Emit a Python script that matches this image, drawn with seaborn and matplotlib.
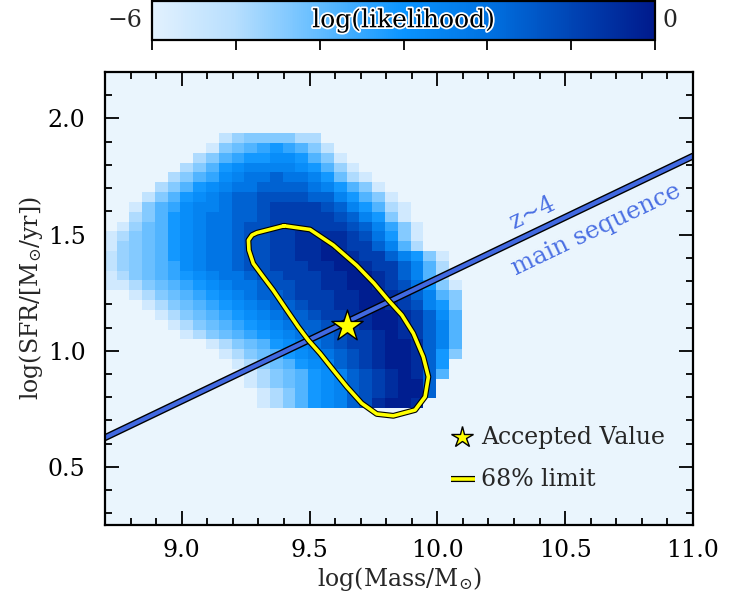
import numpy as np
import pandas as pd
import matplotlib
matplotlib.use("Agg")
import matplotlib.pyplot as plt
import matplotlib.patheffects as pe
from matplotlib.colors import LinearSegmentedColormap, Normalize
from matplotlib.cm import ScalarMappable
from matplotlib.ticker import MultipleLocator, FormatStrFormatter
import seaborn as sns

# ---------------- data ----------------
# likelihood grid: bin edges in log(Mass) and log(SFR)
mass_edges = np.round(np.linspace(8.695, 10.095, 29), 4)   # 28 columns
sfr_edges = np.round(np.linspace(0.753, 1.937, 29), 4)     # 28 rows

# colour class of each cell (0 = below -6, I = darkest), rows from top (high SFR) to bottom
class_symbols = "0123456789ABCDEFGHI"
loglike_levels = [
    "000000000" "35666644" "00000000000",
    "00000000" "26789A9863" "0000000000",
    "0000000" "4689AABBA862" "000000000",
    "000000" "468ABCCCCBA852" "00000000",
    "00000" "4689BCDDEDDCA742" "0000000",
    "0000" "468ABCDDEEEEDCA862" "000000",
    "000" "368ABCDEEFFFFEECA862" "00000",
    "00" "2689BCCDEEFGGGGFECA842" "0000",
    "00" "468ABCDDEEFGGGGGFECA62" "0000",
    "0" "2578ABCDDEFFGGGGGGFEC962" "000",
    "2" "4678ABCDDEFFGGHHHHGFDA62" "000",
    "2" "5678ABCDDEFFGGHHIHGGEC84" "000",
    "3" "5678ABCDDEFFGGHHIIHGGECA62" "0",
    "3" "56789BCDDEFFGGGHHIIHGGEC840",
    "2" "46789ABCDDEFFGGGHHIIHGEC840",
    "2" "246789ABCDDEFFGGHHIIHGFDA62",
    "0" "0246789ABCDEEFGGGHHIIHGEC86",
    "0" "00246789ABCDEEFGGHHIIHGFCA6",
    "0" "000246789ABCDEEFGGHHIIHGEB8",
    "0" "0000246789ABCDEEFGGHIIHGEC8",
    "0" "00000246789ABCDEEFGGHIHGEC8",
    "0" "0000000" "24678ABCDEFGGHIIHEC8",
    "0" "00000000" "24678ABCDEFGHIIHEA6",
    "0" "000000000" "24678ABCEFGHIIHEA" "0",
    "0" "0000000000" "24678ABCEFGHIHE8" "0",
    "0" "0000000000" "24678ABCEFGHIIE" "00",
    "0" "00000000000" "2468ABCEFGHIIE" "00",
    "0" "00000000000" "2468ABCEFHIIH" "000",
]
# log(likelihood) for each colour class
class_loglike = [-6.0, -5.8, -5.6, -5.25, -4.9, -4.65, -4.4, -4.1, -3.8, -3.45,
                 -3.1, -2.8, -2.5, -2.1, -1.65, -1.25, -0.85, -0.45, -0.1]
loglike_min, loglike_max = -6.0, 0.0

# z~4 main sequence
ms_mass = [8.70, 11.00]
ms_sfr = [0.626, 1.838]

# 68% likelihood contour
contour_mass = [9.400, 9.502, 9.593, 9.685, 9.752, 9.808, 9.861, 9.906, 9.945, 9.965,
                9.952, 9.913, 9.828, 9.763, 9.704, 9.646, 9.593, 9.541, 9.495, 9.456,
                9.411, 9.358, 9.319, 9.280, 9.263, 9.261, 9.275, 9.294, 9.400]
contour_sfr = [1.538, 1.522, 1.455, 1.367, 1.291, 1.218, 1.154, 1.075, 0.974, 0.888,
               0.802, 0.745, 0.720, 0.728, 0.774, 0.845, 0.917, 0.989, 1.046, 1.103,
               1.175, 1.261, 1.318, 1.376, 1.433, 1.476, 1.498, 1.508, 1.538]

# accepted value
best_mass = [9.648]
best_sfr = [1.108]

# ---------------- build table ----------------
mass_centers = (mass_edges[:-1] + mass_edges[1:]) / 2
sfr_centers_top_down = ((sfr_edges[:-1] + sfr_edges[1:]) / 2)[::-1]
recs = []
for j, row in enumerate(loglike_levels):
    assert len(row) == len(mass_centers), (j, len(row))
    for k, ch in enumerate(row):
        lvl = class_symbols.index(ch)
        w = 0.0 if lvl == 0 else class_loglike[lvl] - loglike_min
        recs.append((mass_centers[k], sfr_centers_top_down[j], w))
grid = pd.DataFrame(recs, columns=["mass", "sfr", "weight"])
contour = pd.DataFrame({"mass": contour_mass, "sfr": contour_sfr})

# ---------------- style ----------------
sns.set_theme(style="ticks")
plt.rcParams["font.family"] = ["DejaVu Serif"]
plt.rcParams["mathtext.fontset"] = "dejavuserif"

cmap = LinearSegmentedColormap.from_list(
    "like",
    [(0.0, "#e2f1fe"), (0.167, "#b6defe"), (0.333, "#62bcff"), (0.5, "#0a94ff"),
     (0.667, "#0072e2"), (0.833, "#0045b5"), (1.0, "#001a8c")])

W, H = 751, 607
fig = plt.figure(figsize=(W / 100, H / 100), dpi=100)
ax = fig.add_axes([105 / W, 1 - 525 / H, 588 / W, 453 / H])
ax.set_facecolor("#eaf5fd")

sns.histplot(data=grid, x="mass", y="sfr", weights="weight",
             bins=[mass_edges, sfr_edges], cmap=cmap,
             vmin=0, vmax=loglike_max - loglike_min,
             thresh=0, cbar=False, ax=ax, zorder=1)

# main sequence line
sns.lineplot(x=ms_mass, y=ms_sfr, ax=ax, color="#4169e1", lw=3.0, zorder=3,
             path_effects=[pe.Stroke(linewidth=5.0, foreground="black"), pe.Normal()])

# 68% contour
sns.lineplot(data=contour, x="mass", y="sfr", sort=False, estimator=None, ax=ax,
             color="#ffff00", lw=2.6, zorder=4,
             path_effects=[pe.Stroke(linewidth=4.2, foreground="black"), pe.Normal()])

# accepted value
sns.scatterplot(x=best_mass, y=best_sfr, ax=ax, marker="*", s=560,
                color="#ffff00", edgecolor="black", linewidth=1.0, zorder=5)

ax.set_xlim(8.7, 11.0)
ax.set_ylim(0.25, 2.2)
ax.xaxis.set_major_locator(MultipleLocator(0.5))
ax.xaxis.set_minor_locator(MultipleLocator(0.1))
ax.yaxis.set_major_locator(MultipleLocator(0.5))
ax.yaxis.set_minor_locator(MultipleLocator(0.1))
ax.xaxis.set_major_formatter(FormatStrFormatter("%.1f"))
ax.yaxis.set_major_formatter(FormatStrFormatter("%.1f"))
ax.tick_params(which="both", direction="in", top=True, right=True,
               colors="black", width=1.3, labelsize=17)
ax.tick_params(which="major", length=10)
ax.tick_params(which="minor", length=5)
ax.tick_params(axis="x", pad=10)
ax.tick_params(axis="y", pad=14)
for sp in ax.spines.values():
    sp.set_linewidth(1.6)
    sp.set_color("black")
    sp.set_zorder(10)

ax.set_xlabel(r"log(Mass/$\mathrm{M}_{\odot}$)", fontsize=17, labelpad=2)
ax.set_ylabel(r"log(SFR/[$\mathrm{M}_{\odot}$/yr])", fontsize=17, labelpad=2)

# main sequence labels
ms_color = "#4a6fe3"
ax.text(10.372, 1.594, "z~4", rotation=25.6, rotation_mode="anchor",
        ha="center", va="center", color=ms_color, fontsize=17, zorder=6)
ax.text(10.621, 1.522, "main sequence", rotation=25.6, rotation_mode="anchor",
        ha="center", va="center", color=ms_color, fontsize=17.5, zorder=6)

# legend (manual)
ax.plot([0.6077], [0.1936], transform=ax.transAxes, marker="*", ms=16,
        mfc="#ffff00", mec="black", mew=1.0, ls="none", zorder=7)
ax.text(0.639, 0.1936, "Accepted Value", transform=ax.transAxes, fontsize=17,
        va="center", ha="left", zorder=7)
ax.plot([0.588, 0.629], [0.1015, 0.1015], transform=ax.transAxes, color="#ffff00",
        lw=2.6, solid_capstyle="butt", zorder=7,
        path_effects=[pe.Stroke(linewidth=4.4, foreground="black"), pe.Normal()])
ax.text(0.639, 0.1015, "68% limit", transform=ax.transAxes, fontsize=17,
        va="center", ha="left", zorder=7)

# colorbar on top
cax = fig.add_axes([152 / W, 1 - 40 / H, 503 / W, 39 / H])
sm = ScalarMappable(norm=Normalize(loglike_min, loglike_max), cmap=cmap)
cb = fig.colorbar(sm, cax=cax, orientation="horizontal", ticks=np.arange(-6, 1, 1))
cb.outline.set_linewidth(1.6)
cb.outline.set_edgecolor("black")
cax.tick_params(axis="x", direction="out", length=7, width=1.3, labelbottom=False,
                colors="black")
cax.text(0.5, 0.5, "log(likelihood)", transform=cax.transAxes, ha="center",
         va="center", fontsize=18, color="black",
         path_effects=[pe.Stroke(linewidth=2.5, foreground="white"), pe.Normal()])
cax.text(-0.02, 0.5, "\u22126", transform=cax.transAxes, ha="right", va="center",
         fontsize=17)
cax.text(1.015, 0.5, "0", transform=cax.transAxes, ha="left", va="center",
         fontsize=17)

fig.savefig("out.png", dpi=100)
